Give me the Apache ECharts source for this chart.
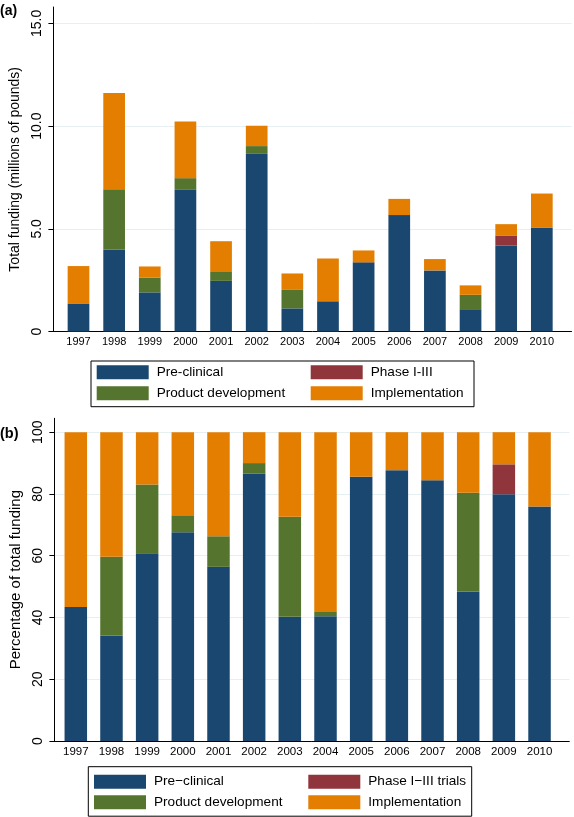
<!DOCTYPE html>
<html>
<head>
<meta charset="utf-8">
<script src="https://cdn.jsdelivr.net/npm/echarts@6/dist/echarts.min.js"></script>
<style>
html,body{margin:0;padding:0;background:#fff;}
#chart{width:574px;height:817px;}
</style>
</head>
<body>
<div id="chart"></div>
<script>
// ---- Data ----
const years = ['1997', '1998', '1999', '2000', '2001', '2002', '2003', '2004', '2005', '2006', '2007', '2008', '2009', '2010'];

// Panel (a): total funding, millions of pounds
const fundPreclinical = [1.37, 3.98, 1.91, 6.90, 2.47, 8.65, 1.13, 1.45, 3.37, 5.67, 2.98, 1.09, 4.18, 5.07];
const fundProductDev  = [0, 2.95, 0.71, 0.57, 0.43, 0.38, 0.90, 0.04, 0, 0, 0, 0.70, 0, 0];
const fundPhase       = [0, 0, 0, 0, 0, 0, 0, 0, 0, 0, 0, 0, 0.50, 0];
const fundImplement   = [1.82, 4.68, 0.55, 2.76, 1.50, 0.99, 0.80, 2.07, 0.58, 0.79, 0.55, 0.46, 0.55, 1.65];

// Panel (b): percentage of total funding
const pctPreclinical = [43.4, 34.2, 60.8, 67.6, 56.4, 86.6, 40.2, 40.4, 85.6, 87.7, 84.4, 48.4, 79.9, 75.9];
const pctProductDev  = [0, 25.5, 22.3, 5.5, 9.9, 3.4, 32.4, 1.4, 0, 0, 0, 32.0, 0, 0];
const pctPhase       = [0, 0, 0, 0, 0, 0, 0, 0, 0, 0, 0, 0, 9.7, 0];
const pctImplement   = [56.6, 40.3, 16.9, 26.9, 33.7, 10.0, 27.4, 58.2, 14.4, 12.3, 15.6, 19.6, 10.4, 24.1];

const fundTicks = [0, 5, 10, 15];
const pctTicks = [0, 20, 40, 60, 80, 100];

// ---- Styling ----
const FONT = '"Liberation Sans", Arial, Helvetica, sans-serif';
const NAVY = '#1a476f', GREEN = '#55752f', MAROON = '#90353b', ORANGE = '#e37e00';
const GRIDC = '#e6eff1';

function barSeries(name, vals, color, idx, stack, width) {
  return {
    type: 'bar', name: name, stack: stack,
    xAxisIndex: idx, yAxisIndex: idx,
    barWidth: width,
    itemStyle: { color: color },
    data: vals,
    animation: false
  };
}

// frame axis (line only) spanning full plot width
function frameXAxis(idx) {
  return {
    type: 'value', gridIndex: idx, min: 0, max: 1,
    axisLine: { show: true, lineStyle: { color: '#000', width: 1 } },
    axisTick: { show: false }, axisLabel: { show: false }, splitLine: { show: false }
  };
}
// category axis holding the bars and year labels
function catXAxis(idx, fs, margin) {
  return {
    type: 'category', gridIndex: idx, data: years, boundaryGap: true,
    axisLine: { show: false }, axisTick: { show: false }, splitLine: { show: false },
    axisLabel: { interval: 0, fontFamily: FONT, fontSize: fs, color: '#000', margin: margin }
  };
}

function yAxisCfg(idx, max, interval, ticks, fmt, name, nameFs, nameGap, margin) {
  return {
    type: 'value', gridIndex: idx, min: 0, max: max, interval: interval,
    name: name, nameLocation: 'middle', nameGap: nameGap,
    nameTextStyle: { fontFamily: FONT, fontSize: nameFs, color: '#000' },
    axisLine: { show: true, lineStyle: { color: '#000', width: 1 } },
    axisTick: { show: true, length: 5, customValues: ticks, lineStyle: { color: '#000' } },
    splitLine: { show: true, lineStyle: { color: GRIDC, width: 1 } },
    axisLabel: {
      customValues: ticks, formatter: fmt, rotate: 90,
      fontFamily: FONT, fontSize: 14, color: '#000', margin: margin
    }
  };
}
function hiddenYAxis(idx, max) {
  return { type: 'value', gridIndex: idx, min: 0, max: max, show: false, splitLine: { show: false } };
}

function legendCfg(names, left, top, gap) {
  return {
    data: names, orient: 'vertical', left: left, top: top,
    itemWidth: 52, itemHeight: 14, itemGap: gap, padding: 0,
    icon: 'rect', selectedMode: false,
    textStyle: { fontFamily: FONT, fontSize: 13.6, lineHeight: 14, color: '#000', padding: [0, 0, 0, 3] }
  };
}

const chart = echarts.init(document.getElementById('chart'), null, { renderer: 'canvas' });

chart.setOption({
  backgroundColor: '#fff',
  animation: false,
  title: [
    { text: '(a)', left: 0, top: 4.5, padding: 0,
      textStyle: { fontFamily: FONT, fontSize: 14, fontWeight: 'bold', color: '#000' } },
    { text: '(b)', left: 0, top: 426, padding: 0,
      textStyle: { fontFamily: FONT, fontSize: 14.5, fontWeight: 'bold', color: '#000' } }
  ],
  grid: [
    { left: 48, top: 7, width: 523.5, height: 324.6 },
    { left: 60.68, top: 7, width: 498.96, height: 324.6 },
    { left: 45, top: 418.3, width: 524.3, height: 322.7 },
    { left: 57.97, top: 418.3, width: 499.4, height: 322.7 }
  ],
  xAxis: [ frameXAxis(0), catXAxis(1, 11, 5), frameXAxis(2), catXAxis(3, 11.5, 4.5) ],
  yAxis: [
    yAxisCfg(0, 15.8, 5, fundTicks, v => v === 0 ? '0' : v.toFixed(1),
      'Total funding (millions of pounds)', 14, 30, 9.5),
    hiddenYAxis(1, 15.8),
    yAxisCfg(2, 104.5, 20, pctTicks, v => String(v),
      'Percentage of total funding', 15, 28.5, 9.5),
    hiddenYAxis(3, 104.5)
  ],
  legend: [
    legendCfg(['Pre-clinical', 'Product development'], 96.7, 365.3, 7),
    legendCfg(['Phase I-III', 'Implementation'], 310.7, 365.3, 7),
    legendCfg(['Pre\u2212clinical', 'Product development'], 94, 774.7, 6.6),
    legendCfg(['Phase I\u2212III trials', 'Implementation'], 308.3, 774.7, 6.6)
  ],
  graphic: [
    { type: 'rect', shape: { x: 91, y: 361, width: 383, height: 45.7 },
      style: { fill: null, stroke: '#000', lineWidth: 1 }, silent: true },
    { type: 'rect', shape: { x: 88.3, y: 766.7, width: 383.4, height: 49.5 },
      style: { fill: null, stroke: '#000', lineWidth: 1 }, silent: true }
  ],
  series: [
    barSeries('Pre-clinical', fundPreclinical, NAVY, 1, 'a', 21.7),
    barSeries('Product development', fundProductDev, GREEN, 1, 'a', 21.7),
    barSeries('Phase I-III', fundPhase, MAROON, 1, 'a', 21.7),
    barSeries('Implementation', fundImplement, ORANGE, 1, 'a', 21.7),
    barSeries('Pre\u2212clinical', pctPreclinical, NAVY, 3, 'b', 22.5),
    barSeries('Product development', pctProductDev, GREEN, 3, 'b', 22.5),
    barSeries('Phase I\u2212III trials', pctPhase, MAROON, 3, 'b', 22.5),
    barSeries('Implementation', pctImplement, ORANGE, 3, 'b', 22.5)
  ]
});
</script>
</body>
</html>
